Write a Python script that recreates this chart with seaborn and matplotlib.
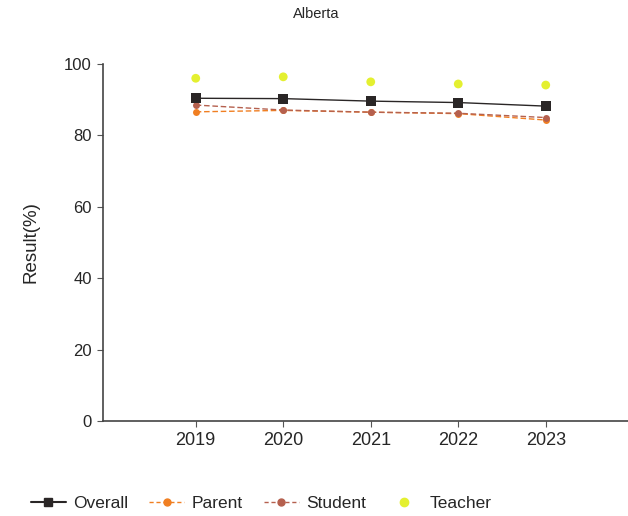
import matplotlib
matplotlib.use("Agg")
import matplotlib.pyplot as plt
import seaborn as sns
import pandas as pd
from matplotlib.lines import Line2D

# Survey results for Alberta, percent
years = ["2019", "2020", "2021", "2022", "2023"]
overall = [90.4, 90.3, 89.6, 89.2, 88.2]
parent = [86.6, 87.0, 86.5, 86.1, 84.3]
student = [88.5, 87.1, 86.5, 86.2, 85.0]
teacher = [96.0, 96.4, 95.0, 94.4, 94.1]

sns.set_style("white")
plt.rcParams["font.family"] = ["Liberation Sans", "DejaVu Sans"]

df = pd.DataFrame({
    "idx": range(len(years)),
    "Overall": overall,
    "Parent": parent,
    "Student": student,
    "Teacher": teacher,
})

fig = plt.figure(figsize=(6.28, 5.16), dpi=100)
ax = fig.add_axes([0.164, 0.184, 0.836, 0.692])

c_overall = "#2a2626"
c_parent = "#f07f22"
c_student = "#b5604e"
c_teacher = "#e4f030"

sns.lineplot(data=df, x="idx", y="Parent", ax=ax, color=c_parent, lw=1.0,
             linestyle=(0, (4, 2)), marker="o", markersize=5, markeredgewidth=0)
sns.lineplot(data=df, x="idx", y="Student", ax=ax, color=c_student, lw=1.0,
             linestyle=(0, (4, 2)), marker="o", markersize=5, markeredgewidth=0)
sns.lineplot(data=df, x="idx", y="Overall", ax=ax, color=c_overall, lw=1.0,
             marker="s", markersize=7, markeredgewidth=0)
sns.scatterplot(data=df, x="idx", y="Teacher", ax=ax, color=c_teacher, s=40,
                edgecolor="none")

ax.set_xlim(-1.06, 4.94)
ax.set_ylim(0, 100)
ax.set_xticks(range(len(years)))
ax.set_xticklabels(years, fontsize=13)
ax.set_yticks([0, 20, 40, 60, 80, 100])
ax.set_yticklabels(["0", "20", "40", "60", "80", "100"], fontsize=12)
ax.tick_params(axis="both", length=4, width=0.8, color="#555555", pad=4,
               left=True, bottom=True)
ax.set_xlabel("")
ax.set_ylabel("Result(%)", fontsize=13.5, labelpad=18)

fig.text(0.503, 0.973, "Alberta", ha="center", va="center", fontsize=10.5)

for side in ["top", "right"]:
    ax.spines[side].set_visible(False)
for side in ["left", "bottom"]:
    ax.spines[side].set_color("#444444")
    ax.spines[side].set_linewidth(1.2)

handles = [
    Line2D([], [], color=c_overall, lw=1.5, marker="s", markersize=6),
    Line2D([], [], color=c_parent, lw=1.0, linestyle=(0, (3, 2)), marker="o", markersize=5),
    Line2D([], [], color=c_student, lw=1.0, linestyle=(0, (3, 2)), marker="o", markersize=5),
    Line2D([], [], color=c_teacher, lw=0, marker="o", markersize=6),
]
fig.legend(handles, ["Overall", "Parent", "Student", "Teacher"], ncol=4,
           loc="center", bbox_to_anchor=(0.416, 0.025), frameon=False,
           fontsize=12.5, handlelength=2.0, columnspacing=1.2, handletextpad=0.45)

fig.savefig("out.png", dpi=100)
